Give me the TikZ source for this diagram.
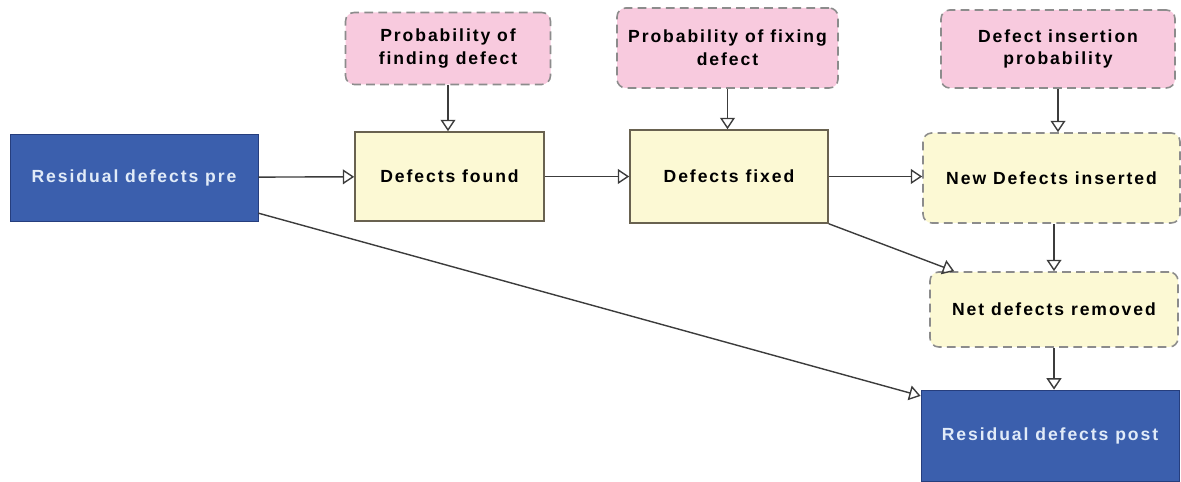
\documentclass[tikz,border=0pt]{standalone}
\usepackage{fontspec}
\newfontfamily\diafont[LetterSpace=11]{Liberation Sans}
\usetikzlibrary{arrows.meta}
\definecolor{stockblue}{RGB}{59,95,173}
\definecolor{stockline}{RGB}{38,62,125}
\definecolor{stocktext}{RGB}{225,235,248}
\definecolor{flowfill}{RGB}{252,249,212}
\definecolor{flowline}{RGB}{105,98,80}
\definecolor{auxfill}{RGB}{248,202,222}
\definecolor{dashline}{RGB}{140,140,140}
\definecolor{linkline}{RGB}{60,60,60}
\begin{document}
\begin{tikzpicture}[x=0.02cm,y=-0.02cm,>={Triangle[open,length=6.5pt,width=8.5pt]},
font=\diafont\bfseries\fontsize{10}{13}\selectfont,
stock/.style = {draw=stockline, fill=stockblue, text=stocktext, inner sep=0pt},
flowbox/.style = {draw=flowline, fill=flowfill, line width=0.9pt, inner sep=0pt},
aux/.style = {draw=dashline, fill=auxfill, dash pattern=on 5pt off 3pt, line width=0.9pt, rounded corners=5pt, inner sep=0pt, align=center},
calc/.style = {draw=dashline, fill=flowfill, dash pattern=on 5pt off 3pt, line width=0.9pt, rounded corners=5pt, inner sep=0pt},
link/.style = {->, draw=linkline, line width=0.8pt},]
\useasboundingbox (0,0) rectangle (1181,482);
\node (pre) at (134,177.5)[stock,minimum width=248*0.02cm,minimum height=87*0.02cm] {Residual defects pre};
\node (pfind) at (448,48.5)[aux,minimum width=205*0.02cm,minimum height=72*0.02cm] {Probability of\\finding defect};
\node (found) at (449.5,176.5)[flowbox,minimum width=189*0.02cm,minimum height=89*0.02cm] {Defects found};
\node (pfix) at (727.5,48)[aux,minimum width=221*0.02cm,minimum height=80*0.02cm] {Probability of fixing\\defect};
\node (fixed) at (729,176.5)[flowbox,minimum width=198*0.02cm,minimum height=93*0.02cm] {Defects fixed};
\node (pins) at (1058,49)[aux,minimum width=234*0.02cm,minimum height=78*0.02cm] {Defect insertion\\probability};
\node (new) at (1051.5,178)[calc,minimum width=257*0.02cm,minimum height=90*0.02cm] {New Defects inserted};
\node (net) at (1054,309.5)[calc,minimum width=248*0.02cm,minimum height=75*0.02cm] {Net defects removed};
\node (post) at (1050,435.5)[stock,minimum width=258*0.02cm,minimum height=91*0.02cm] {Residual defects post};
\draw[link] (pre)--(found);
\draw[link] (found)--(fixed);
\draw[link] (fixed)--(fixed -| new.west);
\draw[link] (pfind.south)--(pfind.south |- found.north);
\draw[link] (pfix.south)--(pfix.south |- fixed.north);
\draw[link] (pins.south)--(pins.south |- new.north);
\draw[link] (net.north |- new.south)--(net.north);
\draw[link] (net.south)--(net.south |- post.north);
\draw[link] (fixed.south east)--(net.159);
\draw[link] (pre.-16)--(post.163);
\end{tikzpicture}
\end{document}
